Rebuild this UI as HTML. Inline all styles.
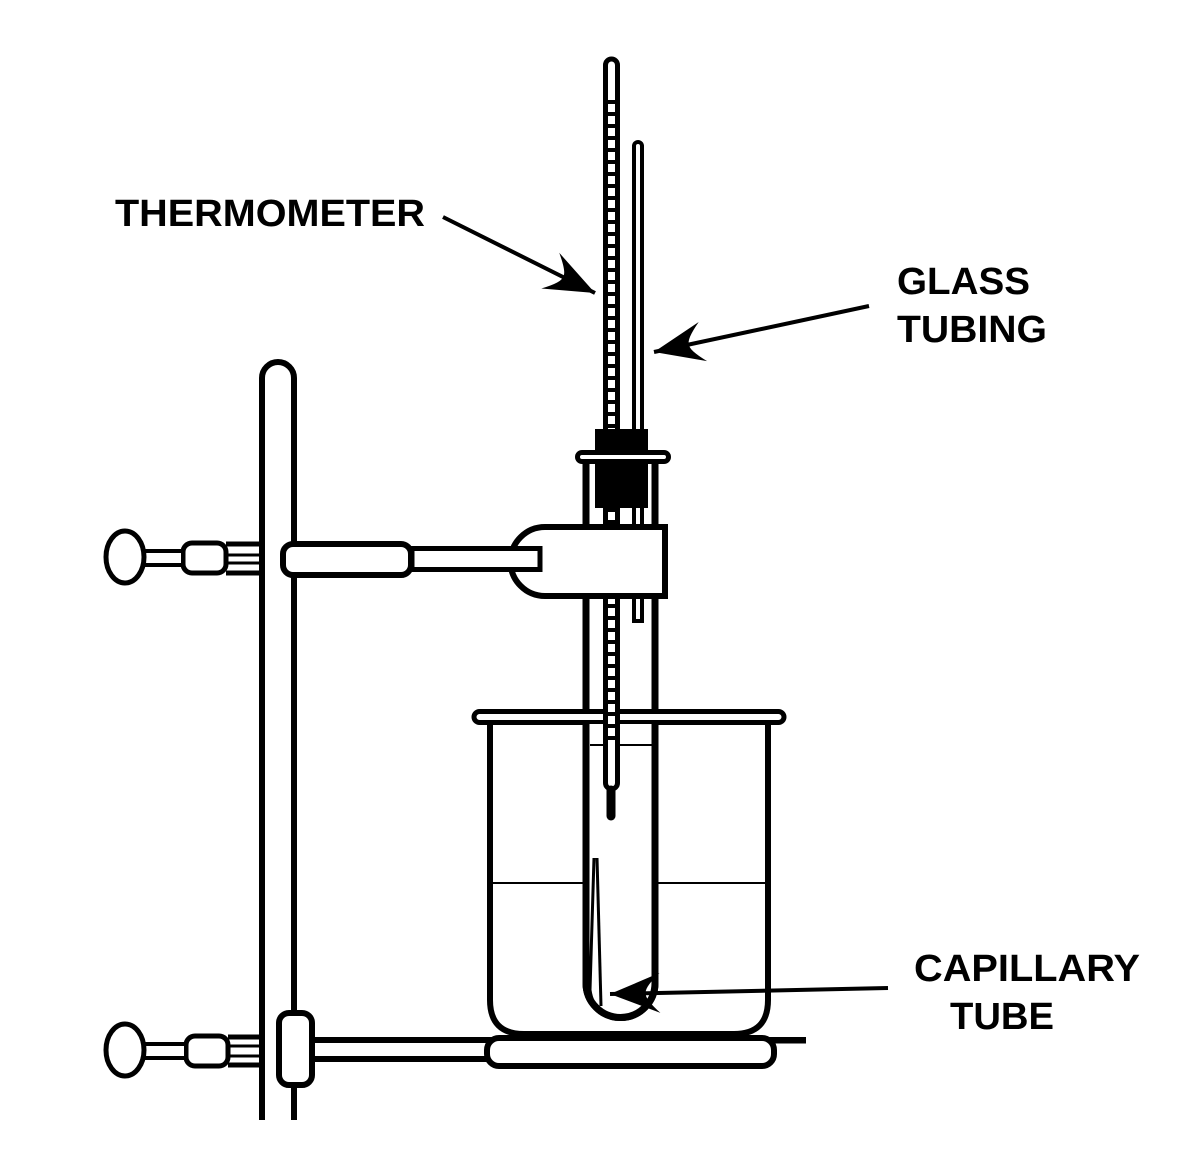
<!DOCTYPE html>
<html><head><style>html,body{margin:0;padding:0;background:#fff}svg{display:block}</style></head>
<body>
<svg width="1188" height="1158" viewBox="0 0 1188 1158" xmlns="http://www.w3.org/2000/svg">
<defs>
<pattern id="ticks" x="0" y="100" width="20" height="12" patternUnits="userSpaceOnUse">
<rect x="0" y="0" width="20" height="4" fill="#000"/>
</pattern>
<marker id="ah" markerUnits="userSpaceOnUse" markerWidth="70" markerHeight="50" refX="0" refY="0" viewBox="-55 -25 60 50" orient="auto">
<path d="M0,0 L-50,-20 Q-34,-5 -36,0 Q-34,5 -50,20 Z" fill="#000"/>
</marker>
</defs>
<g fill="none" stroke="#000" stroke-linecap="butt">
<!-- stand rod -->
<path d="M262,1120 V378 A16,16 0 0 1 294,378 V1120" stroke-width="6"/>
<!-- glass tubing -->
<path d="M634,621 V146 A4,4 0 0 1 642,146 V621 Z" stroke-width="4" fill="#fff"/>
<!-- test tube -->
<path d="M586,462 V983 A34.5,34.5 0 0 0 655,983 V462" stroke-width="7"/>
<!-- beaker -->
<line x1="490" y1="883" x2="768" y2="883" stroke-width="2"/>
<path d="M490,722 V1000 Q490,1034 524,1034 H734 Q768,1034 768,1000 V722" stroke-width="6"/>
<rect x="474" y="711.5" width="310" height="11" rx="5.5" stroke-width="5" fill="#fff"/>
<path d="M589,724 V983 A31,31 0 0 0 652,983 V724 Z" fill="#fff" stroke="none"/>
<path d="M586,724 V983 A34.5,34.5 0 0 0 655,983 V724" stroke-width="7"/>
<line x1="590" y1="745" x2="652" y2="745" stroke-width="2"/>
<!-- thermometer -->
<rect x="605.5" y="59" width="12" height="730" rx="6" stroke-width="5" fill="#fff"/>
<rect x="606" y="100" width="11" height="648" fill="url(#ticks)" stroke="none"/>
<line x1="611" y1="790" x2="611" y2="816" stroke-width="9" stroke-linecap="round"/>
<!-- stopper -->
<rect x="595" y="429" width="53" height="24" fill="#000" stroke="none"/>
<rect x="577.5" y="452.5" width="91" height="9" rx="4.5" stroke-width="5" fill="#fff"/>
<rect x="595" y="462" width="53" height="46" fill="#000" stroke="none"/>
<!-- clamp head -->
<path d="M545,527 H665 V596 H545 A34.5,34.5 0 0 1 545,527 Z" stroke-width="6" fill="#fff"/>
<rect x="412" y="548.5" width="128" height="21" stroke-width="5" fill="#fff"/>
<!-- upper boss -->
<rect x="283" y="544" width="128" height="31" rx="10" stroke-width="6" fill="#fff"/>
<line x1="226" y1="544" x2="262" y2="544" stroke-width="5"/>
<line x1="226" y1="555" x2="262" y2="555" stroke-width="3"/>
<line x1="226" y1="563" x2="262" y2="563" stroke-width="3"/>
<line x1="226" y1="573" x2="262" y2="573" stroke-width="5"/>
<rect x="183" y="543" width="43" height="30" rx="9" stroke-width="5" fill="#fff"/>
<rect x="140" y="551" width="43" height="14" stroke-width="4" fill="#fff"/>
<ellipse cx="125" cy="557" rx="19" ry="26" stroke-width="5" fill="#fff"/>
<!-- capillary -->
<path d="M594,858 L590,990 Q592,1004 600,1010" stroke-width="3"/>
<path d="M597,858 L601,1006" stroke-width="3"/>
<!-- bottom ring / plate -->
<line x1="312" y1="1040" x2="806" y2="1040" stroke-width="6"/>
<line x1="312" y1="1059" x2="487" y2="1059" stroke-width="6"/>
<rect x="487" y="1038" width="287" height="28" rx="12" stroke-width="6" fill="#fff"/>
<line x1="770" y1="1041" x2="806" y2="1041" stroke-width="5"/>
<!-- lower boss -->
<rect x="279" y="1013" width="33" height="72" rx="10" stroke-width="6" fill="#fff"/>
<line x1="228" y1="1037" x2="262" y2="1037" stroke-width="5"/>
<line x1="228" y1="1046" x2="262" y2="1046" stroke-width="3"/>
<line x1="228" y1="1056" x2="262" y2="1056" stroke-width="3"/>
<line x1="228" y1="1065" x2="262" y2="1065" stroke-width="5"/>
<rect x="186" y="1036" width="42" height="30" rx="9" stroke-width="5" fill="#fff"/>
<rect x="142" y="1044" width="44" height="14" stroke-width="4" fill="#fff"/>
<ellipse cx="125" cy="1050" rx="19" ry="26" stroke-width="5" fill="#fff"/>
<!-- arrows -->
<line x1="443" y1="217" x2="595" y2="293" stroke-width="4" marker-end="url(#ah)"/>
<line x1="869" y1="306" x2="654" y2="352" stroke-width="4" marker-end="url(#ah)"/>
<line x1="888" y1="988" x2="610" y2="994" stroke-width="4" marker-end="url(#ah)"/>
</g>
<g font-family="Liberation Sans, sans-serif" font-weight="bold" font-size="38" fill="#000">
<text x="115" y="226" textLength="310" lengthAdjust="spacingAndGlyphs">THERMOMETER</text>
<text x="897" y="294" textLength="133" lengthAdjust="spacingAndGlyphs">GLASS</text>
<text x="897" y="342" textLength="150" lengthAdjust="spacingAndGlyphs">TUBING</text>
<text x="914" y="981" textLength="226" lengthAdjust="spacingAndGlyphs">CAPILLARY</text>
<text x="950" y="1029" textLength="104" lengthAdjust="spacingAndGlyphs">TUBE</text>
</g>
</svg>
</body></html>
